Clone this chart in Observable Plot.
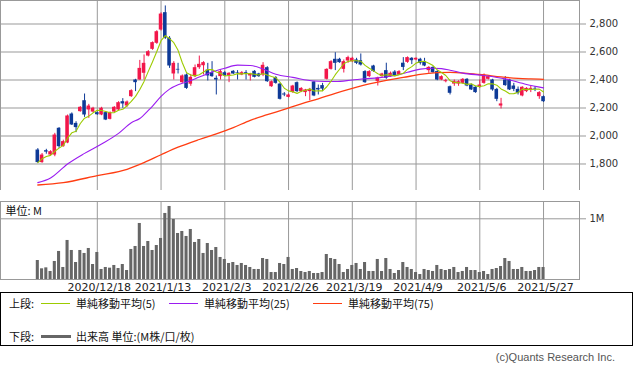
<!DOCTYPE html>
<html><head><meta charset="utf-8">
<script src="https://cdn.jsdelivr.net/npm/d3@7"></script>
<script src="https://cdn.jsdelivr.net/npm/@observablehq/plot@0.6"></script>
<style>
body{margin:0;background:#fff;}
#wrap{position:relative;width:633px;height:372px;overflow:hidden;background:#fff;font-family:"DejaVu Sans",sans-serif;}
#price{position:absolute;left:0;top:0;}
#vol{position:absolute;left:0;top:195px;}
#wrap svg g[aria-label="y-axis"] line, #wrap svg g[aria-label="y-axis tick"]{stroke:#999;}
#legend{position:absolute;left:0;top:292px;width:631px;height:52px;border:1px solid #000;font-family:"Noto Sans CJK JP",sans-serif;font-size:11px;color:#111;}
#legend .t{position:absolute;line-height:14px;white-space:nowrap;}
#legend .ln{position:absolute;height:0;}
#copy{position:absolute;left:470px;width:145px;text-align:right;top:351px;font-family:"Liberation Sans",sans-serif;font-size:11px;color:#555;white-space:nowrap;}
</style>
</head><body>
<div id="wrap">
  <div id="price"></div>
  <div id="vol"></div>
  <div id="legend"></div>
  <div id="copy">(c)Quants Research Inc.</div>
</div>
<script>
const opens = [1900,1810,1895,1864,1864,2055,1924,1950,2157,2090,
2174,2252,2186,2171,2167,2150,2167,2119,2171,2186,
2245,2214,2281,2400,2400,2448,2571,2619,2662,2757,
2881,2698,2443,2476,2381,2436,2370,2424,2488,2502,
2471,2452,2412,2424,2452,2429,2462,2452,2436,2452,
2429,2462,2443,2436,2488,2352,2417,2371,2300,2276,
2310,2381,2317,2310,2317,2386,2340,2360,2405,2476,
2548,2548,2476,2536,2531,2543,2538,2460,2424,2500,
2390,2424,2467,2424,2457,2436,2520,2526,2555,2543,
2548,2531,2467,2490,2460,2400,2388,2352,2371,2371,
2376,2405,2364,2348,2348,2376,2405,2400,2333,2214,
2400,2400,2357,2333,2286,2317,2333,2340,2281,2281];
const closes = [1810,1864,1885,1888,2007,1924,1960,2143,2079,2060,
2205,2150,2214,2198,2152,2198,2114,2167,2205,2238,
2229,2243,2324,2381,2483,2519,2602,2667,2745,2871,
2698,2500,2519,2471,2429,2340,2419,2488,2512,2524,
2429,2424,2400,2460,2429,2448,2443,2448,2452,2443,
2443,2419,2424,2505,2388,2388,2376,2262,2293,2293,
2357,2317,2340,2329,2333,2286,2329,2335,2476,2531,
2519,2524,2531,2560,2555,2519,2507,2381,2460,2460,
2415,2443,2412,2448,2429,2460,2490,2560,2538,2555,
2519,2500,2490,2452,2400,2424,2395,2305,2390,2388,
2405,2357,2329,2310,2364,2436,2424,2329,2262,2229,
2360,2329,2333,2305,2348,2340,2340,2336,2310,2245];
const highs = [1910,1875,1905,1895,2019,2060,1970,2150,2165,2102,
2210,2300,2226,2205,2172,2205,2172,2172,2210,2245,
2267,2250,2330,2405,2540,2579,2610,2672,2752,2880,
2929,2710,2531,2519,2436,2443,2440,2507,2571,2531,
2519,2531,2429,2471,2460,2452,2467,2467,2460,2467,
2448,2467,2448,2524,2495,2393,2424,2376,2310,2300,
2362,2386,2345,2333,2340,2390,2364,2376,2480,2538,
2595,2555,2543,2570,2562,2555,2586,2467,2467,2505,
2420,2448,2520,2457,2467,2467,2560,2565,2560,2558,
2555,2555,2495,2495,2467,2430,2405,2357,2400,2395,
2410,2410,2370,2352,2400,2443,2430,2405,2340,2269,
2424,2405,2376,2350,2352,2345,2355,2352,2317,2286];
const lows = [1805,1805,1870,1858,1852,1912,1920,1945,2075,2024,
2170,2133,2126,2165,2148,2145,2110,2115,2168,2180,
2198,2205,2276,2317,2398,2400,2565,2612,2655,2750,
2690,2483,2400,2443,2376,2333,2355,2417,2476,2436,
2393,2419,2293,2400,2424,2381,2440,2400,2431,2400,
2393,2415,2419,2424,2383,2348,2370,2257,2281,2272,
2305,2310,2310,2281,2252,2281,2293,2317,2400,2471,
2467,2519,2450,2519,2524,2510,2500,2376,2417,2455,
2357,2419,2405,2419,2424,2431,2467,2519,2510,2538,
2507,2495,2448,2448,2395,2395,2380,2293,2355,2355,
2370,2352,2325,2305,2340,2370,2400,2320,2245,2193,
2355,2325,2317,2293,2280,2310,2310,2317,2262,2240];
const volumes = [0.313,0.176,0.192,0.132,0.297,0.462,0.198,0.643,0.478,0.280,
0.478,0.429,0.511,0.247,0.445,0.165,0.198,0.187,0.231,0.181,
0.247,0.148,0.495,0.544,0.923,0.544,0.626,0.478,0.560,0.676,
1.088,1.203,0.989,0.758,0.791,0.709,0.824,0.610,0.659,0.429,
0.593,0.478,0.527,0.363,0.330,0.264,0.280,0.231,0.264,0.231,
0.198,0.165,0.165,0.346,0.330,0.115,0.115,0.264,0.247,0.363,
0.165,0.181,0.132,0.115,0.132,0.099,0.099,0.115,0.412,0.346,
0.330,0.247,0.115,0.165,0.231,0.264,0.165,0.280,0.132,0.132,
0.330,0.132,0.346,0.165,0.099,0.148,0.280,0.198,0.165,0.115,
0.082,0.165,0.148,0.132,0.231,0.165,0.148,0.165,0.198,0.115,
0.132,0.198,0.148,0.148,0.115,0.132,0.082,0.165,0.181,0.214,
0.346,0.297,0.165,0.165,0.198,0.132,0.132,0.148,0.198,0.198];
// moving averages (index of candle, value)
const ma25Idx = [0,3,7,11,15,19,22,24,26,27,29,31,33,35,38,41,44,47,50,53,56,60,65,70,74,77,80,84,87,90,93,95,97,100,105,110,115,119];
const ma25Val = [1667,1700,1800,1876,1943,2019,2095,2125,2183,2214,2283,2335,2366,2386,2421,2457,2484,2506,2504,2478,2441,2419,2393,2389,2400,2409,2415,2432,2455,2478,2484,2481,2470,2449,2432,2408,2368,2344];
const ma75Idx = [0,6,14,21,25,29,33,38,42,46,50,54,58,62,66,70,74,78,82,86,90,94,97,101,105,109,113,116,119];
const ma75Val = [1650,1667,1717,1762,1810,1866,1920,1975,2015,2060,2112,2152,2190,2230,2266,2305,2340,2372,2398,2418,2440,2452,2455,2448,2436,2422,2412,2408,2405];
const priceTicks = [1800,2000,2200,2400,2600,2800];
const volTicks = [1];
const tickIdx = [14,29,44,59,74,89,104,119];
const tickLabels = ["2020/12/18","2021/1/13","2021/2/3","2021/2/26","2021/3/19","2021/4/9","2021/5/6","2021/5/27"];

const UP = "#f2174a", DN = "#0e3a97";
const candles = closes.map((c, i) => ({i, open: opens[i], high: highs[i], low: lows[i], close: c, vol: volumes[i], up: c >= opens[i]}));
const ma25 = ma25Idx.map((i, k) => ({i, v: ma25Val[k]}));
const ma75 = ma75Idx.map((i, k) => ({i, v: ma75Val[k]}));
const dateTicks = tickIdx.map((i, k) => ({i, label: tickLabels[k]}));
const xDomain = [-8.78, 127.46];
const fmt = d3.format(",");

const price = Plot.plot({
  width: 633, height: 190, marginTop: 0, marginBottom: 0, marginLeft: 0, marginRight: 54,
  style: {fontFamily: "DejaVu Sans", fontSize: "10px", color: "#333", background: "#fff"},
  x: {domain: xDomain, axis: null},
  y: {domain: [1610.7, 2967.9], axis: "right", ticks: priceTicks, tickSize: 6, tickPadding: 4, tickFormat: d => fmt(d), label: null},
  marks: [
    Plot.ruleY(priceTicks, {stroke: "#999", strokeWidth: 1}),
    Plot.ruleX(tickIdx, {stroke: "#999", strokeWidth: 1}),
    Plot.frame({stroke: "#999"}),
    Plot.ruleX(candles, {filter: d => d.up, x: "i", y1: "low", y2: "high", stroke: UP}),
    Plot.ruleX(candles, {filter: d => !d.up, x: "i", y1: "low", y2: "high", stroke: DN}),
    Plot.rect(candles, {filter: d => d.up, x1: d => d.i - 0.42, x2: d => d.i + 0.42, y1: "open", y2: "close", fill: UP}),
    Plot.rect(candles, {filter: d => !d.up, x1: d => d.i - 0.42, x2: d => d.i + 0.42, y1: "open", y2: "close", fill: DN}),
    Plot.line(ma75, {x: "i", y: "v", stroke: "#ff3d12", strokeWidth: 1.3, curve: "monotone-x"}),
    Plot.line(ma25, {x: "i", y: "v", stroke: "#9b1cf0", strokeWidth: 1.1, curve: "monotone-x"}),
    Plot.lineY(candles, Plot.windowY({k: 5, anchor: "end", reduce: "mean"}, {x: "i", y: "close", stroke: "#9ccb00", strokeWidth: 1.1}))
  ]
});
document.getElementById("price").appendChild(price);

const vol = Plot.plot({
  width: 633, height: 100, marginTop: 6, marginBottom: 16, marginLeft: 0, marginRight: 54,
  style: {fontFamily: "DejaVu Sans", fontSize: "10px", color: "#333", background: "#fff", overflow: "visible"},
  x: {domain: xDomain, axis: null},
  y: {domain: [0, 1.285], axis: "right", ticks: volTicks, tickSize: 6, tickPadding: 4, tickFormat: d => d + "M", label: null},
  marks: [
    Plot.ruleY(volTicks, {stroke: "#999"}),
    Plot.ruleX(tickIdx, {stroke: "#999"}),
    Plot.frame({stroke: "#999"}),
    Plot.rect(candles, {x1: d => d.i - 0.36, x2: d => d.i + 0.36, y1: 0, y2: "vol", fill: "#666"}),
    Plot.text(dateTicks, {x: "i", text: "label", frameAnchor: "bottom", lineAnchor: "top", dx: 2, dy: 4, fill: "#222", fontSize: 11}),
    Plot.text(["単位: M"], {frameAnchor: "top-left", dx: 5, dy: 6, text: d => d, fill: "#111", fontFamily: "Noto Sans CJK JP", fontSize: 11})
  ]
});
document.getElementById("vol").appendChild(vol);

// legend
const lg = document.getElementById("legend");
function addText(txt, left, top) { const s = document.createElement("div"); s.className = "t"; s.textContent = txt; s.style.left = left + "px"; s.style.top = top + "px"; lg.appendChild(s); }
function addLine(color, left, top, w, th) { const s = document.createElement("div"); s.className = "ln"; s.style.left = left + "px"; s.style.top = top + "px"; s.style.width = w + "px"; s.style.borderTop = th + "px solid " + color; lg.appendChild(s); }
addText("上段:", 8, 3);
addLine("#9ccb00", 40, 10, 29, 1); addText("単純移動平均(5)", 75, 3);
addLine("#9b1cf0", 168, 10, 29, 1); addText("単純移動平均(25)", 203, 3);
addLine("#ff3d12", 312, 10, 29, 1); addText("単純移動平均(75)", 347, 3);
addText("下段:", 8, 36);
addLine("#666", 40, 42, 30, 3); addText("出来高 単位:(M株/口/枚)", 75, 36);
</script>
</body></html>
